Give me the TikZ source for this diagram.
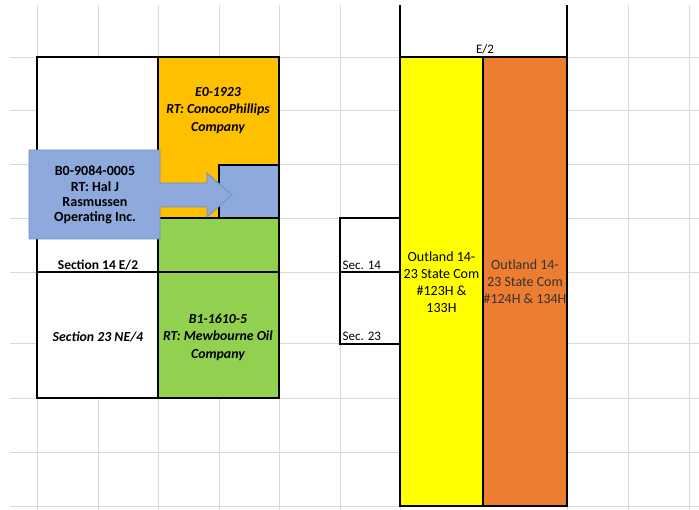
\documentclass[tikz,border=0pt]{standalone}
\usepackage{fontspec}
\setmainfont{Carlito}
\definecolor{gridc}{HTML}{D9D9D9}
\definecolor{gold}{HTML}{FFC000}
\definecolor{lgreen}{HTML}{92D050}
\definecolor{lblue}{HTML}{8EA9DB}
\definecolor{bblue}{HTML}{6F8FC9}
\definecolor{yel}{HTML}{FFFF00}
\definecolor{orng}{HTML}{ED7D31}
\begin{document}
\begin{tikzpicture}[x=1pt,y=-1pt,
  gridline/.style={draw=gridc, line width=0.8pt},
  cell/.style={draw=black, line width=1.6pt, inner sep=0pt, outer sep=0pt, anchor=north west},
  lbl/.style={inner sep=0pt, align=center, font=\fontsize{13.8}{17.5}\selectfont\bfseries\itshape},
  wlbl/.style={inner sep=0pt, align=center, font=\fontsize{14}{17}\selectfont},
  slbl/.style={inner sep=0pt, font=\fontsize{13}{14}\selectfont}]
\useasboundingbox (0,0) rectangle (699,510);
\fill[white] (0,0) rectangle (699,510);
% spreadsheet grid
\foreach \y in {57,110,164,218,272,343,398,452,506} \draw[gridline] (10,\y) -- (699,\y);
\foreach \x in {37,98,158,219,279,340,400,567,628,689} \draw[gridline] (\x,5) -- (\x,510);
% left plat
\node[cell, fill=white, minimum width=121pt, minimum height=215pt] (w14) at (37,57) {};
\node[cell, fill=white, minimum width=121pt, minimum height=126pt] (w23) at (37,272) {};
\node[cell, fill=gold, minimum width=121pt, minimum height=161pt] (e0) at (158,57) {};
\node[cell, fill=lgreen, minimum width=121pt, minimum height=54pt] (g14) at (158,218) {};
\node[cell, fill=lgreen, minimum width=121pt, minimum height=126pt] (g23) at (158,272) {};
\node[cell, fill=lblue, minimum width=60pt, minimum height=53pt] (bb) at (219,165) {};
\node[lbl] (e0t) at (218,110.5) {E0-1923\\RT: ConocoPhillips\\Company};
\node[lbl] (g23t) at (218,337) {B1-1610-5\\RT: Mewbourne Oil\\Company};
\node[inner sep=0pt, font=\fontsize{13.5}{15}\selectfont\bfseries] (s14t) at (98,265) {Section 14 E/2};
\node[lbl] (s23t) at (98,337) {Section 23 NE/4};
% callout arrow
\draw[fill=lblue, draw=bblue, line width=0.8pt]
  (29,150) -- (160,150) -- (160,183) -- (207,183) -- (207,173) -- (232,195)
  -- (207,217) -- (207,207) -- (160,207) -- (160,239) -- (29,239) -- cycle;
\node[inner sep=0pt, align=center, font=\fontsize{14}{15.2}\selectfont\bfseries] (bt) at (95,195) {B0-9084-0005\\RT: Hal J\\Rasmussen\\Operating Inc.};
% right plat
\coordinate (ltop) at (400,5);
\coordinate (rtop) at (567,5);
\node[cell, fill=yel, minimum width=83pt, minimum height=449pt] (yw) at (400,57) {};
\node[cell, fill=orng, minimum width=84pt, minimum height=449pt] (ow) at (483,57) {};
\draw[line width=1.6pt] (ltop) -- (yw.north west) -- (ow.north east) -- (rtop);
\node[slbl, anchor=south] (e2) at (485,54) {E/2};
\node[cell, fill=white, minimum width=60pt, minimum height=54pt] (sec14) at (340,218) {};
\node[cell, fill=white, minimum width=60pt, minimum height=72pt] (sec23) at (340,272) {};
\node[slbl, anchor=south west] (sec14t) at (342.5,269.5) {Sec. 14};
\node[slbl, anchor=south west] (sec23t) at (342.5,341) {Sec. 23};
\node[wlbl] (ywt) at (441.5,282.5) {Outland 14-\\23 State Com\\\#123H \&\\133H};
\node[wlbl, text=black!80] (owt) at (525,282) {Outland 14-\\23 State Com\\\#124H \& 134H};
\end{tikzpicture}
\end{document}
